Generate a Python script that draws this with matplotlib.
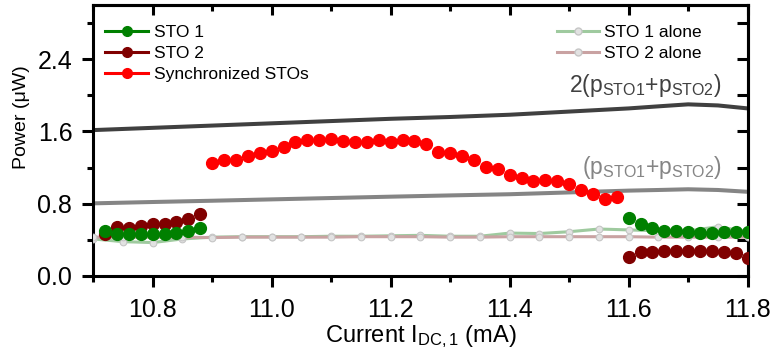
"""Power of two coupled STOs versus DC current."""
import matplotlib

matplotlib.use("Agg")
import matplotlib.pyplot as plt  # noqa: E402
from matplotlib.lines import Line2D  # noqa: E402
from matplotlib.ticker import MultipleLocator, FormatStrFormatter  # noqa: E402

plt.rcParams["font.family"] = ["Liberation Sans", "DejaVu Sans"]
plt.rcParams["mathtext.fontset"] = "custom"
plt.rcParams["mathtext.rm"] = "Liberation Sans"
plt.rcParams["mathtext.it"] = "Liberation Sans:italic"

# coupled measurement, left branch (10.72 - 10.88 mA)
current_left = [10.72, 10.74, 10.76, 10.78, 10.80, 10.82, 10.84, 10.86, 10.88]
sto1_left = [0.50, 0.47, 0.47, 0.46, 0.47, 0.47, 0.48, 0.50, 0.534]
sto2_left = [0.46, 0.545, 0.534, 0.556, 0.572, 0.572, 0.60, 0.63, 0.686]

# coupled measurement, right branch (11.60 - 11.80 mA)
current_right = [11.60, 11.62, 11.64, 11.66, 11.68, 11.70, 11.72, 11.74, 11.76, 11.78, 11.80]
sto1_right = [0.638, 0.572, 0.534, 0.501, 0.498, 0.483, 0.472, 0.472, 0.483, 0.483, 0.49]
sto2_right = [0.214, 0.262, 0.269, 0.277, 0.277, 0.277, 0.277, 0.277, 0.262, 0.251, 0.202]

# synchronized STOs
current_sync = [10.90, 10.92, 10.94, 10.96, 10.98, 11.00, 11.02, 11.04, 11.06, 11.08,
                11.10, 11.12, 11.14, 11.16, 11.18, 11.20, 11.22, 11.24, 11.26, 11.28,
                11.30, 11.32, 11.34, 11.36, 11.38, 11.40, 11.42, 11.44, 11.46, 11.48,
                11.50, 11.52, 11.54, 11.56, 11.58]
power_sync = [1.247, 1.283, 1.283, 1.327, 1.357, 1.386, 1.431, 1.479, 1.504, 1.504,
              1.512, 1.493, 1.479, 1.479, 1.504, 1.479, 1.504, 1.493, 1.457, 1.368,
              1.364, 1.327, 1.283, 1.209, 1.180, 1.117, 1.080, 1.051, 1.062, 1.051,
              1.014, 0.951, 0.903, 0.848, 0.870]

# each STO running alone
current_alone = [10.70, 10.75, 10.80, 10.85, 10.90, 10.95, 11.00, 11.05, 11.10, 11.15,
                 11.20, 11.25, 11.30, 11.35, 11.40, 11.45, 11.50, 11.55, 11.60, 11.65,
                 11.70, 11.75, 11.80]
sto1_alone = [0.41, 0.38, 0.37, 0.41, 0.43, 0.435, 0.435, 0.435, 0.44, 0.44,
              0.445, 0.45, 0.44, 0.44, 0.475, 0.47, 0.49, 0.52, 0.51, 0.50,
              0.50, 0.545, 0.49]
sto2_alone = [0.43, 0.43, 0.43, 0.43, 0.425, 0.43, 0.43, 0.43, 0.43, 0.435,
              0.435, 0.435, 0.43, 0.43, 0.435, 0.435, 0.435, 0.435, 0.435, 0.43,
              0.43, 0.43, 0.43]

# reference curves (p_STO1 + p_STO2) and twice that
current_sum = [10.70, 10.80, 10.90, 11.00, 11.10, 11.20, 11.30, 11.40, 11.50, 11.60,
               11.65, 11.70, 11.75, 11.80]
power_sum = [0.804, 0.819, 0.833, 0.848, 0.863, 0.878, 0.892, 0.905, 0.925, 0.945,
             0.952, 0.96, 0.952, 0.932]
power_sum2 = [1.615, 1.64, 1.665, 1.69, 1.715, 1.74, 1.76, 1.785, 1.82, 1.855,
              1.878, 1.90, 1.888, 1.855]

GREEN = "#008000"
DARKRED = "#800000"
RED = "#ff0000"
ALONE1 = "#9fca9f"
ALONE2 = "#c9a2a2"
MS = 8.5


def style_axes(ax):
    ax.set_xlim(10.7, 11.8)
    ax.set_ylim(0.0, 3.0)
    ax.xaxis.set_major_locator(MultipleLocator(0.2))
    ax.xaxis.set_minor_locator(MultipleLocator(0.1))
    ax.xaxis.set_major_formatter(FormatStrFormatter("%.1f"))
    ax.yaxis.set_major_locator(MultipleLocator(0.8))
    ax.yaxis.set_minor_locator(MultipleLocator(0.4))
    ax.yaxis.set_major_formatter(FormatStrFormatter("%.1f"))
    for sp in ax.spines.values():
        sp.set_linewidth(2.2)
    ax.tick_params(which="major", direction="out", length=8, width=2.2, labelsize=18)
    ax.tick_params(axis="x", which="major", pad=7.5)
    ax.tick_params(axis="y", which="major", pad=7)
    ax.tick_params(which="minor", direction="out", length=4.5, width=2.2)

    top = ax.secondary_xaxis("top")
    top.xaxis.set_major_locator(MultipleLocator(0.2))
    top.xaxis.set_minor_locator(MultipleLocator(0.1))
    top.tick_params(which="major", direction="in", length=7.5, width=2.2, labeltop=False)
    top.tick_params(which="minor", direction="in", length=4.5, width=2.2)
    top.spines["top"].set_linewidth(2.2)

    right = ax.secondary_yaxis("right")
    right.yaxis.set_major_locator(MultipleLocator(0.8))
    right.yaxis.set_minor_locator(MultipleLocator(0.4))
    right.tick_params(which="major", direction="in", length=8, width=2.2, labelright=False)
    right.tick_params(which="minor", direction="in", length=8, width=2.2)
    right.spines["right"].set_linewidth(2.2)


def main():
    fig = plt.figure(figsize=(7.76, 3.63), dpi=100)
    ax = fig.add_axes([0.1201, 0.2397, 0.8434, 0.7466])

    ax.plot(current_sum, power_sum2, color="#404040", lw=2.9, zorder=2)
    ax.plot(current_sum, power_sum, color="#858585", lw=2.9, zorder=2)

    alone_kw = dict(marker="o", ms=4.8, mfc="#e2e2e2", mec="#c6c6c6", mew=0.8, lw=2.2, zorder=3)
    ax.plot(current_alone, sto1_alone, color=ALONE1, **alone_kw)
    ax.plot(current_alone, sto2_alone, color=ALONE2, **alone_kw)

    ax.plot(current_left, sto2_left, "o", color=DARKRED, ms=MS, zorder=4)
    ax.plot(current_right, sto2_right, "o", color=DARKRED, ms=MS, zorder=4)
    ax.plot(current_left, sto1_left, "o", color=GREEN, ms=MS, zorder=5)
    ax.plot(current_right, sto1_right, "o", color=GREEN, ms=MS, zorder=5)
    ax.plot(current_sync, power_sync, "o", color=RED, ms=MS, zorder=6)

    style_axes(ax)
    ax.set_xlabel(r"Current I$_{\mathrm{DC,1}}$ (mA)", fontsize=17, labelpad=1)
    ax.set_ylabel("Power (\u03bcW)", fontsize=14)
    ax.yaxis.set_label_coords(-0.097, 0.585)

    ax.text(11.757, 2.035, r"2(p$_{\mathrm{STO1}}$+p$_{\mathrm{STO2}}$)",
            ha="right", va="baseline", fontsize=16.5, color="#404040")
    ax.text(11.757, 1.128, r"(p$_{\mathrm{STO1}}$+p$_{\mathrm{STO2}}$)",
            ha="right", va="baseline", fontsize=16.5, color="#858585")

    handles1 = [
        Line2D([], [], color=GREEN, marker="o", ms=7, lw=2.2),
        Line2D([], [], color=DARKRED, marker="o", ms=7, lw=2.2),
        Line2D([], [], color=RED, marker="o", ms=7, lw=2.2),
    ]
    leg1 = ax.legend(handles1, ["STO 1", "STO 2", "Synchronized STOs"],
                     loc="upper left", bbox_to_anchor=(0.018, 0.927), frameon=False,
                     fontsize=12.5, handlelength=2.5, handletextpad=0.3,
                     labelspacing=0.35, borderpad=0, borderaxespad=0)
    ax.add_artist(leg1)

    handles2 = [
        Line2D([], [], color=ALONE1, marker="o", ms=5, mfc="#e2e2e2", mec="#c6c6c6", lw=2.2),
        Line2D([], [], color=ALONE2, marker="o", ms=5, mfc="#e2e2e2", mec="#c6c6c6", lw=2.2),
    ]
    ax.legend(handles2, ["STO 1 alone", "STO 2 alone"],
              loc="upper left", bbox_to_anchor=(0.709, 0.927), frameon=False,
              fontsize=12.5, handlelength=2.4, handletextpad=0.3,
              labelspacing=0.35, borderpad=0, borderaxespad=0)

    fig.savefig("out.png", dpi=100)
    plt.close(fig)


if __name__ == "__main__":
    main()
